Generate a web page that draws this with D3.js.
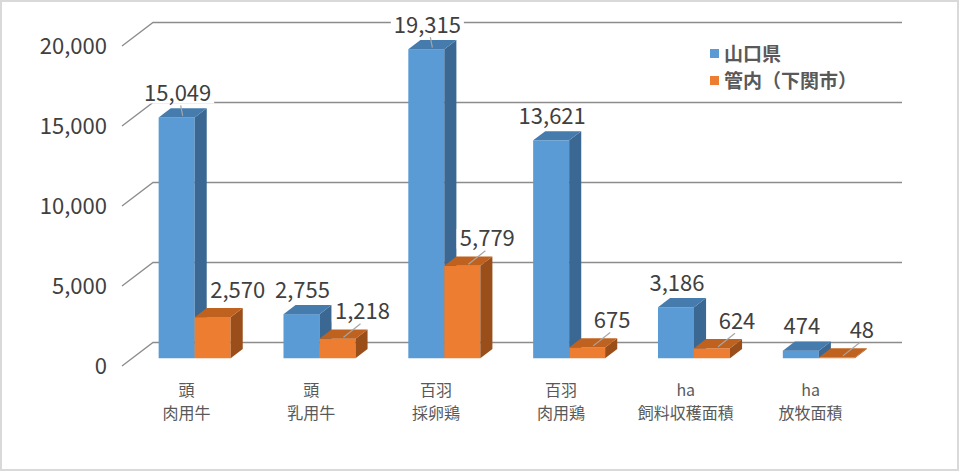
<!DOCTYPE html>
<html>
<head>
<meta charset="utf-8">
<script src="https://cdn.jsdelivr.net/npm/d3@7"></script>
<style>
  body { margin: 0; background: #fff; }
  svg text { font-family: "Noto Sans CJK JP", "Noto Sans", sans-serif; fill: #404040; }
</style>
</head>
<body>
<div id="chart"></div>
<script>
// data
var units = ['頭', '頭', '百羽', '百羽', 'ha', 'ha']
var categories = ['肉用牛', '乳用牛', '採卵鶏', '肉用鶏', '飼料収穫面積', '放牧面積']
var seriesNames = ['山口県', '管内（下関市）']
var yamaguchi = [15049, 2755, 19315, 13621, 3186, 474]
var shimonoseki = [2570, 1218, 5779, 675, 624, 48]
var yTicks = [0, 5000, 10000, 15000, 20000]

// set dimensions
var width = 960
var height = 472

// depth of the floor (oblique projection) and where the bars sit in it
var depth = { x: 31, y: -23.5 }
var f0 = 0.33, f1 = 0.72
var barW = 36

var x = d3.scaleBand()
    .domain(categories)
    .range([122, 871])
var y = d3.scaleLinear()
    .domain([0, 20000])
    .range([366, 46])

var colors = [
    { front: '#5b9bd5', top: '#467bad', side: '#3b6892' },
    { front: '#ed7d31', top: '#c0621f', side: '#9a4f1b' }
]

var svg = d3.select('#chart')
    .append('svg')
    .attr('width', width)
    .attr('height', height)

// outer frame
svg.append('rect')
    .attr('x', 1).attr('y', 1)
    .attr('width', width - 3).attr('height', height - 3)
    .style('fill', '#fff')
    .style('stroke', '#d9d9d9')
    .style('stroke-width', 2)

// gridlines: back wall + left diagonal
var grid = svg.append('g')
yTicks.forEach(function (t) {
    var y0 = y(t)
    grid.append('path')
        .attr('d', 'M' + x.range()[0] + ',' + y0 +
            'L' + (x.range()[0] + depth.x) + ',' + (y0 + depth.y) +
            'H' + (x.range()[1] + depth.x))
        .style('fill', 'none')
        .style('stroke', '#8c8c8c')
        .style('stroke-width', 1.3)
})

// y axis labels
svg.append('g').selectAll('text')
    .data(yTicks)
    .enter().append('text')
    .attr('x', 107)
    .attr('y', function (d) { return y(d) })
    .attr('dy', '0.35em')
    .style('text-anchor', 'end')
    .style('font-size', '22px')
    .text(function (d) { return d3.format(',')(d) })

// bars
var rows = []
categories.forEach(function (c, i) {
    rows.push({ cat: c, s: 0, v: yamaguchi[i] })
    rows.push({ cat: c, s: 1, v: shimonoseki[i] })
})

var bars = svg.append('g')
rows.forEach(function (d) {
    var cx = x(d.cat) + x.bandwidth() / 2
    var xl = cx - barW + d.s * barW + depth.x * f0
    var xr = xl + barW
    var yb = y(0) + depth.y * f0
    var yt = y(d.v) + depth.y * f0
    var ddx = depth.x * (f1 - f0)
    var ddy = depth.y * (f1 - f0)
    d.top = { x: xl + barW / 2 + ddx / 2, y: yt + ddy / 2 }
    d.front = { xl: xl, xr: xr, yt: yt }
    var g = bars.append('g')
    g.append('rect')
        .attr('x', xl).attr('y', yt)
        .attr('width', barW).attr('height', yb - yt)
        .style('fill', colors[d.s].front)
    g.append('path')
        .attr('d', 'M' + xr + ',' + yt + 'L' + (xr + ddx) + ',' + (yt + ddy) +
            'L' + (xr + ddx) + ',' + (yb + ddy) + 'L' + xr + ',' + yb + 'Z')
        .style('fill', colors[d.s].side)
    g.append('path')
        .attr('d', 'M' + xl + ',' + yt + 'L' + xr + ',' + yt +
            'L' + (xr + ddx) + ',' + (yt + ddy) + 'L' + (xl + ddx) + ',' + (yt + ddy) + 'Z')
        .style('fill', colors[d.s].top)
})

// data labels
var labels = svg.append('g')
rows.forEach(function (d, i) {
    var lx = d.s === 0 ? d.top.x - 5 : d.top.x + 19
    var ly = d.front.yt - (d.s === 0 ? 24 : 27)
    // leader lines where the label has been pulled away from its bar
    if ((d.s === 1 && i > 1) || d.v > 15000) {
        labels.append('line')
            .attr('x1', d.top.x).attr('y1', d.top.y + 3)
            .attr('x2', d.s === 1 ? lx - 2 : lx + 3).attr('y2', ly + 12)
            .style('stroke', '#a6a6a6')
            .style('stroke-width', 1.2)
    }
    var txt = d3.format(',')(d.v)
    var w = txt.length * 11.5
    labels.append('rect')
        .attr('x', lx - w / 2 - 2).attr('y', ly - 10)
        .attr('width', w + 4).attr('height', 20)
        .style('fill', '#fff')
    labels.append('text')
        .attr('x', lx)
        .attr('y', ly)
        .attr('dy', '0.35em')
        .style('text-anchor', 'middle')
        .style('font-size', '22px')
        .text(txt)
})

// category labels
var cat = svg.append('g').selectAll('g')
    .data(categories)
    .enter().append('g')
    .attr('transform', function (d) { return 'translate(' + (x(d) + x.bandwidth() / 2 + 2) + ',0)' })
    .style('font-size', '16px')
cat.append('text')
    .attr('y', 390)
    .attr('dy', '0.35em')
    .style('text-anchor', 'middle')
    .style('fill', '#595959')
    .text(function (d, i) { return units[i] })
cat.append('text')
    .attr('y', 413)
    .attr('dy', '0.35em')
    .style('text-anchor', 'middle')
    .style('fill', '#595959')
    .text(function (d) { return d })

// legend
var legend = svg.append('g')
    .attr('transform', 'translate(710,54)')
var item = legend.selectAll('g')
    .data(seriesNames)
    .enter().append('g')
    .attr('transform', function (d, i) { return 'translate(0,' + (i * 27) + ')' })
item.append('rect')
    .attr('x', 0).attr('y', -5)
    .attr('width', 9).attr('height', 9)
    .style('fill', function (d, i) { return colors[i].front })
item.append('text')
    .attr('x', 14)
    .attr('dy', '0.35em')
    .style('font-size', '19px')
    .style('font-weight', 'bold')
    .style('fill', '#595959')
    .text(function (d) { return d })
</script>
</body>
</html>
